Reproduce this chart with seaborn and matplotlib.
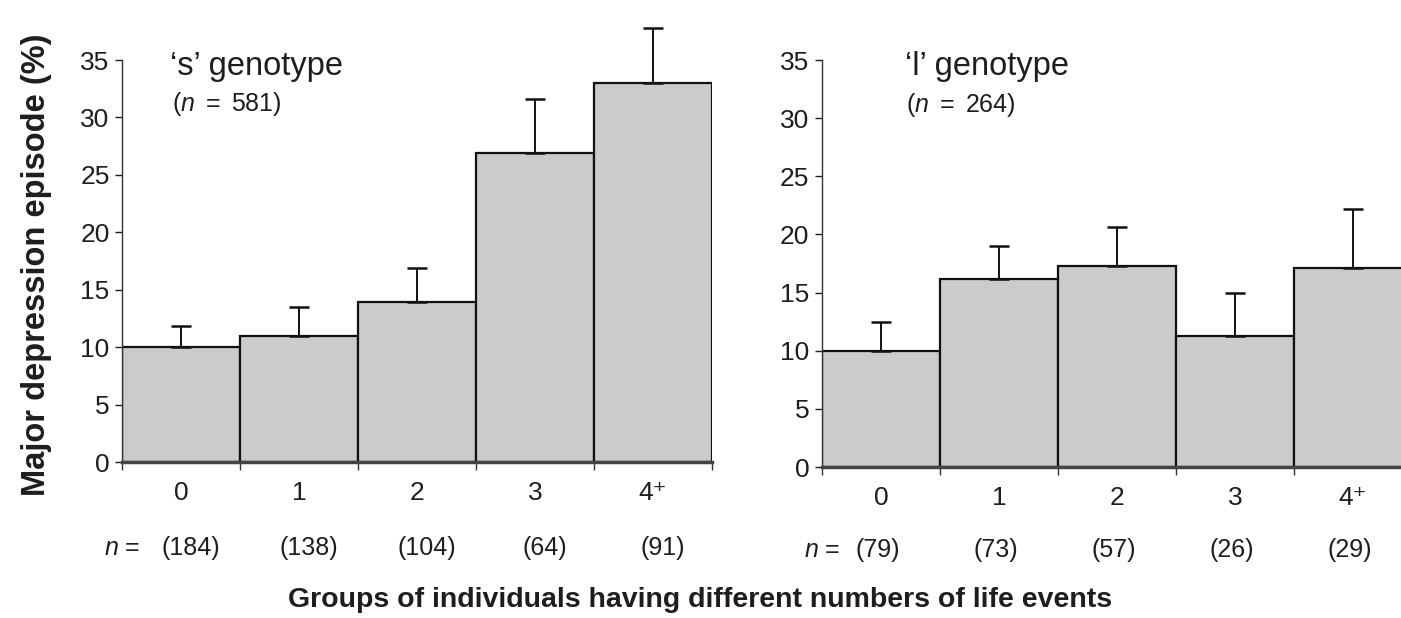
import matplotlib
matplotlib.use("Agg")
import matplotlib.pyplot as plt
import matplotlib.transforms as mtransforms
from matplotlib.ticker import FixedLocator
import numpy as np
import pandas as pd
import seaborn as sns

# ---- data ----
groups = ["0", "1", "2", "3", "4⁺"]
s_means = [10.0, 11.0, 13.9, 26.9, 33.0]
s_upper = [11.8, 13.5, 16.9, 31.6, 37.8]
s_counts = [184, 138, 104, 64, 91]
s_total = 581

l_means = [10.0, 16.2, 17.3, 11.3, 17.1]
l_upper = [12.5, 19.0, 20.6, 15.0, 22.2]
l_counts = [79, 73, 57, 26, 29]
l_total = 264

yticks = [0, 5, 10, 15, 20, 25, 30, 35]

sns.set_theme(style="white")
plt.rcParams["font.family"] = ["Liberation Sans", "DejaVu Sans"]
plt.rcParams["mathtext.fontset"] = "custom"
plt.rcParams["mathtext.rm"] = "Liberation Sans"
plt.rcParams["mathtext.it"] = "Liberation Sans:italic"

fig = plt.figure(figsize=(14.01, 6.18), dpi=100)
axL = fig.add_axes([0.0871, 0.2524, 0.4211, 0.6505])
axR = fig.add_axes([0.5867, 0.2443, 0.4211, 0.6586])

bar_color = "#cbcbcb"
txt = "#1e1e1e"


def draw(ax, means, upper, counts, total, title, title_x, n_y, n_off):
    df = pd.DataFrame({"group": groups, "value": means})
    sns.barplot(data=df, x="group", y="value", order=groups, ax=ax, width=1.0,
                color=bar_color, saturation=1, edgecolor="#111111", linewidth=1.6,
                errorbar=None, zorder=2)
    pos = np.arange(len(groups))
    up = np.array(upper) - np.array(means)
    ax.errorbar(pos, means, yerr=[np.zeros_like(up), up], fmt="none",
                ecolor="#111111", elinewidth=1.4, capsize=7, capthick=1.8,
                clip_on=False, zorder=3)
    ax.set_xlim(-0.5, 4.5)
    ax.set_ylim(0, 35)
    ax.set_yticks(yticks)
    ax.set_xlabel("")
    ax.set_ylabel("")
    for s in ("top", "right"):
        ax.spines[s].set_visible(False)
    ax.spines["left"].set_bounds(0, 35)
    ax.spines["left"].set_linewidth(1.0)
    ax.spines["left"].set_color("#333333")
    ax.spines["bottom"].set_linewidth(2.5)
    ax.spines["bottom"].set_color("#444444")
    ax.tick_params(axis="y", which="major", direction="out", length=5, width=1,
                   labelsize=19, pad=4, colors=txt, left=True)
    ax.tick_params(axis="x", which="major", length=0, labelsize=19, pad=14,
                   colors=txt)
    ax.xaxis.set_minor_locator(FixedLocator(np.arange(-0.5, 5.0, 1.0)))
    ax.tick_params(axis="x", which="minor", direction="out", length=6, width=1,
                   bottom=True, color="#333333")
    ax.patch.set_alpha(0)
    ax.text(title_x, 0.985, title, transform=ax.transAxes, fontsize=23.5,
            color=txt, ha="left", va="center")
    ax.text(title_x + 0.003, 0.89, "($n$ $=$ %d)" % total, transform=ax.transAxes,
            fontsize=18, color=txt, ha="left", va="center")
    trans = mtransforms.blended_transform_factory(ax.transData, ax.transAxes)
    for i, c in enumerate(counts):
        ax.text(i + n_off, n_y, "(%d)" % c, transform=trans, fontsize=18,
                ha="center", va="center", color=txt)
    ax.text(-0.5, n_y, "$n$ =", transform=trans, fontsize=18, ha="center",
            va="center", color=txt)


draw(axL, s_means, s_upper, s_counts, s_total, "‘s’ genotype", 0.082, -0.214, 0.08)
draw(axR, l_means, l_upper, l_counts, l_total, "‘l’ genotype", 0.14, -0.204, -0.03)

fig.text(0.026, 0.571, "Major depression episode (%)", rotation=90,
         fontsize=23.5, fontweight="bold", ha="center", va="center",
         color=txt)
fig.text(0.5, 0.029, "Groups of individuals having different numbers of life events",
         fontsize=20.5, fontweight="bold", ha="center", va="center",
         color=txt)

fig.savefig("out.png", dpi=100)
